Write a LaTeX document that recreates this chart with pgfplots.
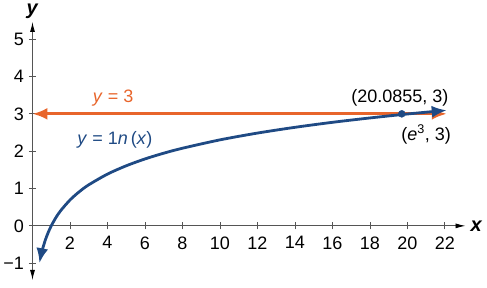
\documentclass[border=0pt]{standalone}
\usepackage{pgfplots}
\pgfplotsset{compat=1.18}
\usepackage{fontspec}
\setmainfont{Liberation Sans}
\usetikzlibrary{arrows.meta}
\definecolor{lnblue}{HTML}{1F4A84}
\definecolor{orng}{HTML}{E8652B}
\definecolor{axgray}{HTML}{555555}
\begin{document}
\begin{tikzpicture}
\fontsize{18pt}{20pt}\selectfont
\begin{axis}[
  name=ax,
  scale only axis,
  width=433pt, height=258pt,
  xmin=0, xmax=23.1, ymin=-1.45, ymax=5.46,
  axis lines=middle,
  clip=false,
  xtick={2,4,...,22},
  ytick={-1,0,...,5},
  yticklabels={−1,0,1,2,3,4,5},
  hide obscured y ticks=false,
  /pgf/number format/assume math mode=true,
  tick style={axgray, line width=0.8pt},
  major tick length=7pt,
  tick label style={font=\fontsize{18pt}{20pt}\selectfont, text=black},
  xticklabel style={yshift=-1pt},
  yticklabel style={xshift=1pt},
  x axis line style={axgray, line width=0.9pt, -{Latex[length=10pt,width=5pt,black]}},
  y axis line style={axgray, line width=0.9pt, {Latex[length=10pt,width=5pt,black]}-{Latex[length=10pt,width=5pt,black]}},
  xlabel={\textbf{\textit{x}}},
  ylabel={\textbf{\textit{y}}},
  xlabel style={at={(axis cs:23.1,0)}, anchor=west, xshift=-1pt, font=\fontsize{20pt}{22pt}\selectfont},
  ylabel style={at={(axis description cs:0,1)}, anchor=south, yshift=-3pt, font=\fontsize{20pt}{22pt}\selectfont},
]
\addplot[orng, line width=2.8pt, {Latex[length=15pt,width=12pt]}-{Latex[length=15pt,width=12pt]}] coordinates {(0,3) (22.1,3)};
\addplot[lnblue, line width=2.8pt, smooth, {Latex[length=15pt,width=12pt]}-{Latex[length=15pt,width=12pt]}] coordinates {
 (0.37,-1.0) (0.45,-0.80) (0.55,-0.60) (0.7,-0.357) (0.85,-0.163) (1,0) (1.25,0.223) (1.5,0.405) (2,0.693) (2.5,0.916) (3,1.099) (4,1.386) (5,1.609) (6,1.792) (7,1.946) (8,2.079) (10,2.303) (12,2.485) (14,2.639) (16,2.773) (18,2.890) (20,2.996) (22.1,3.095)};
\addplot[only marks, mark=*, mark size=3.5pt, lnblue] coordinates {(19.7,3)};
\node[orng, font=\fontsize{18pt}{20pt}\selectfont] at (axis cs:4.3,3.43) {\textit{y} = 3};
\node[lnblue, font=\fontsize{18pt}{20pt}\selectfont] at (axis cs:4.4,2.3) {\textit{y} = 1\textit{n}\,(\textit{x})};
\node[black, font=\fontsize{18pt}{20pt}\selectfont] at (axis cs:19.6,3.43) {(20.0855, 3)};
\node[black, font=\fontsize{18pt}{20pt}\selectfont] at (axis cs:21.0,2.45) {(\textit{e}\textsuperscript{3}, 3)};
\end{axis}
\pgfresetboundingbox
\path (ax.south west) ++(-32.5pt,-8pt) coordinate (bl);
\path (ax.north east) ++(21.5pt,22pt) coordinate (tr);
\path[use as bounding box] (bl) rectangle (tr);
\end{tikzpicture}
\end{document}
